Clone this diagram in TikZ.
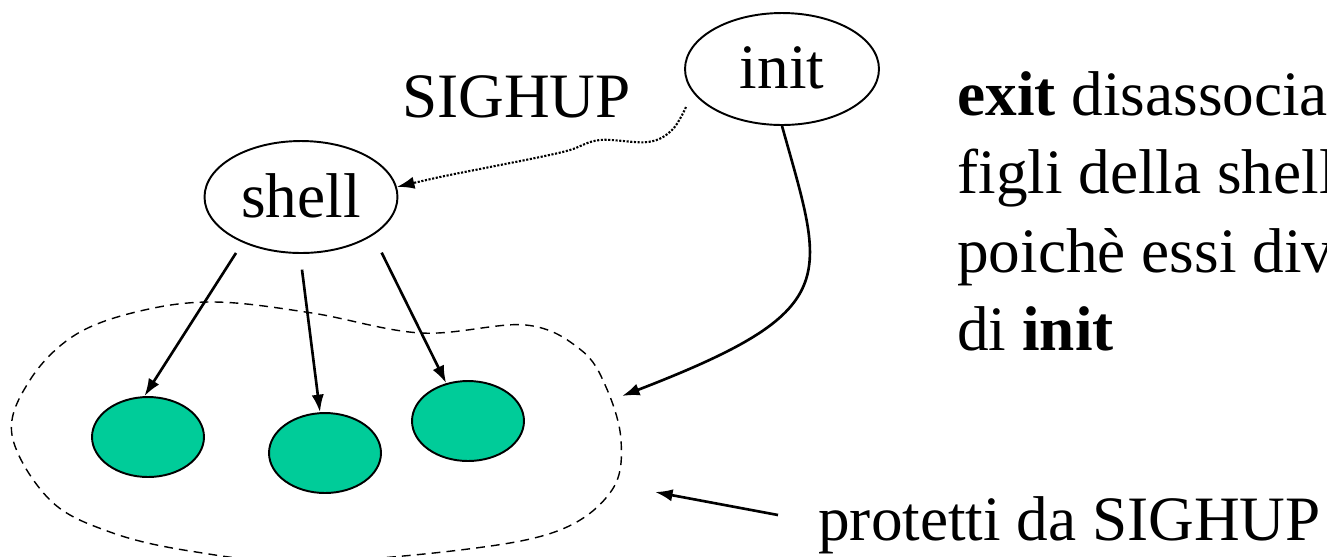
\documentclass[tikz,border=0pt]{standalone}
\usepackage{fontspec}
\setmainfont{Liberation Serif}
\usetikzlibrary{arrows.meta,shapes.geometric}

\definecolor{kidgreen}{HTML}{00CC99}

\tikzset{
	proc/.style={draw, ellipse, line width=1.1pt, inner sep=0pt, text depth=0.2em, font=\fontsize{36}{43}\selectfont},
	kid/.style={draw, ellipse, line width=1.1pt, fill=kidgreen, minimum width=2.24cm, minimum height=1.6cm},
	txt/.style={inner sep=0pt, anchor=base west, font=\fontsize{36}{43}\selectfont},
	arr/.style={-{Latex[length=10pt,width=7pt]}, line width=1.5pt},
	sig/.style={-{Latex[length=10pt,width=7pt]}, line width=1.2pt, dash pattern=on 1.2pt off 0.9pt},
	group/.style={dash pattern=on 5pt off 3.5pt, line width=0.8pt}
}

\begin{document}
\begin{tikzpicture}[x=0.02cm,y=-0.02cm]
	\useasboundingbox (0,0) rectangle (1327,556);
	\clip (0,0) rectangle (1327,556);

	%Draws init and the shell
	\node[proc, minimum width=3.88cm, minimum height=2.24cm] (init) at (782,69) {init};
	\node[proc, minimum width=3.86cm, minimum height=2.24cm] (shell) at (301,197) {shell};
	\node[txt] (sighup) at (402,117) {SIGHUP};

	%Draws the children of the shell
	\node[kid] (kidA) at (148,437) {};
	\node[kid] (kidB) at (325,453) {};
	\node[kid] (kidC) at (468,421) {};

	%Draws the dashed group round the children
	\draw[group] plot[smooth cycle, tension=0.6] coordinates {(12,435) (30,380) (75,335) (140,311) (215,302) (312,313) (421,333) (526,325) (581,350) (606,387) (621,440) (612,490) (560,530) (460,550) (300,562) (190,551) (110,532) (50,500)};

	%Arrows from the shell to its children
	\draw[arr, shorten <=7pt] (shell.218) -- (kidA.95);
	\draw[arr, shorten <=9pt] (shell.-91) -- (kidB.97);
	\draw[arr, shorten <=11pt] (shell.-28) -- (kidC.120);

	%The signal sent to the shell
	\coordinate (sigstart) at (686,107);
	\draw[sig] plot[smooth, tension=0.6] coordinates {(sigstart) (672,130) (648,142) (600,140) (570,150) (540,157) (490,167) (440,177) (shell.6)};

	%init adopts the children
	\coordinate (groupin) at (622,396);
	\draw[arr] (init.south) .. controls (825,280) and (845,310) .. (groupin);

	%Text on the right
	\node[txt] (lineA) at (957,115) {\textbf{exit} disassocia};
	\node[txt] (lineB) at (957,193) {figli della shell};
	\node[txt] (lineC) at (957,272) {poichè essi div};
	\node[txt] (lineD) at (957,350) {di \textbf{init}};

	\node[txt] (prot) at (818,540) {protetti da SIGHUP};
	\coordinate (protout) at (778,515);
	\coordinate (protin) at (655,492);
	\draw[arr] (protout) -- (protin);
\end{tikzpicture}
\end{document}
